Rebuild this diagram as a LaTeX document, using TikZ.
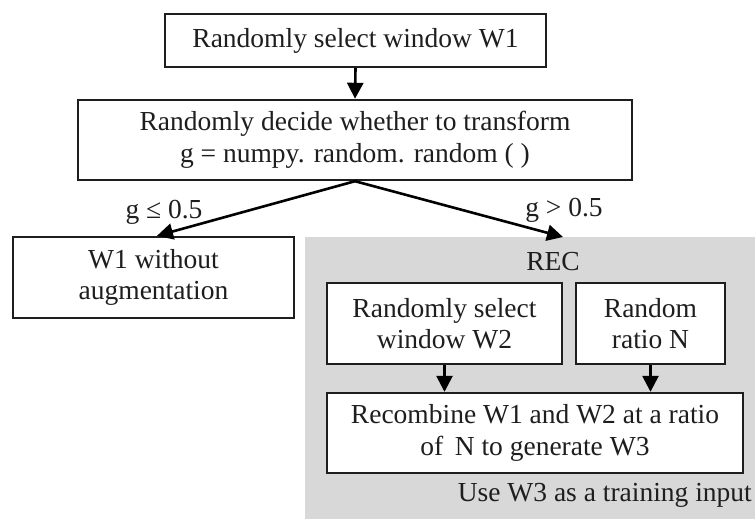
\documentclass[tikz,border=0pt]{standalone}
\usepackage{fontspec}
\setmainfont{Liberation Serif}
\usetikzlibrary{arrows.meta,calc}
\definecolor{panelgray}{HTML}{D8D8D8}
\definecolor{ink}{HTML}{1E1E1E}
\begin{document}
\begin{tikzpicture}[x=1pt,y=-1pt,
  every node/.style={text=ink,font=\fontsize{27.5}{31.5}\selectfont},
  box/.style={draw=ink,line width=2.4pt,fill=white,align=center,inner sep=0pt},
  arr/.style={draw=black,line width=2.6pt,-{Triangle[length=16pt,width=16pt]}},
  lbl/.style={inner sep=0pt}]
  % canvas
  \useasboundingbox (0,0) rectangle (755,519);
  \fill[white] (0,0) rectangle (755,519);
  % shaded REC panel
  \fill[panelgray] (305,237) rectangle (755,519);

  % boxes
  \node[box,minimum width=381pt,minimum height=53pt] (sel1) at (355.5,40.5) {Randomly select window W1};
  \node[box,minimum width=554pt,minimum height=80pt] (decide) at (355,140) {Randomly decide whether to transform\\g = numpy. random. random ( )};
  \node[box,minimum width=281pt,minimum height=81pt] (noaug) at (153.5,277.5) {W1 without\\augmentation};
  \node[lbl] (rec) at (553,262) {REC};
  \node[box,minimum width=235pt,minimum height=81pt] (sel2) at (444.5,323.5) {Randomly select\\window W2};
  \node[box,minimum width=149pt,minimum height=81pt] (ratio) at (650.5,323.5) {Random\\ratio N};
  \node[box,minimum width=416pt,minimum height=80pt] (recomb) at (535,433) {Recombine W1 and W2 at a ratio\\of\, N to generate W3};
  \node[lbl,anchor=east] (use) at (752,495) {Use W3 as a training input};

  % branch labels
  \node[lbl] (le) at (164,212) {g ≤ 0.5};
  \node[lbl] (gt) at (564,210) {g > 0.5};

  % connectors
  \coordinate (recin) at (563,237);
  \draw[arr] (sel1.south) -- (decide.north);
  \draw[arr] (decide.south) -- ($(noaug.north)+(3.5,0)$);
  \draw[arr] (decide.south) -- (recin);
  \draw[arr] (sel2.south) -- (sel2.south |- recomb.north);
  \draw[arr] (ratio.south) -- (ratio.south |- recomb.north);
\end{tikzpicture}
\end{document}
